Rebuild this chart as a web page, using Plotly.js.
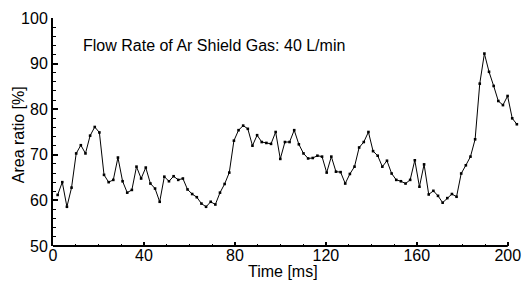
<!DOCTYPE html>
<html>
<head>
<meta charset="utf-8">
<script src="https://cdn.plot.ly/plotly-3.0.1.min.js"></script>
<style>html,body{margin:0;padding:0;background:#fff;}#chart{width:531px;height:291px;}</style>
</head>
<body>
<div id="chart"></div>
<script>
const timeMs = [2.04, 4.08, 6.12, 8.16, 10.2, 12.24, 14.28, 16.32, 18.36, 20.4,
  22.44, 24.48, 26.52, 28.56, 30.6, 32.64, 34.68, 36.72, 38.76, 40.8,
  42.84, 44.88, 46.92, 48.96, 51, 53.04, 55.08, 57.12, 59.16, 61.2,
  63.24, 65.28, 67.32, 69.36, 71.4, 73.44, 75.48, 77.52, 79.56, 81.6,
  83.64, 85.68, 87.72, 89.76, 91.8, 93.84, 95.88, 97.92, 99.96, 102,
  104.04, 106.08, 108.12, 110.16, 112.2, 114.24, 116.28, 118.32, 120.36, 122.4,
  124.44, 126.48, 128.52, 130.56, 132.6, 134.64, 136.68, 138.72, 140.76, 142.8,
  144.84, 146.88, 148.92, 150.96, 153, 155.04, 157.08, 159.12, 161.16, 163.2,
  165.24, 167.28, 169.32, 171.36, 173.4, 175.44, 177.48, 179.52, 181.56, 183.6,
  185.64, 187.68, 189.72, 191.76, 193.8, 195.84, 197.88, 199.92, 201.96, 204];

const areaRatio = [61.2, 64.0, 58.6, 62.8, 70.3, 72.1, 70.3, 74.2, 76.1, 74.9,
  65.6, 64.0, 64.5, 69.4, 64.2, 61.7, 62.3, 67.4, 64.8, 67.2,
  63.7, 62.6, 59.7, 65.2, 64.2, 65.3, 64.5, 64.8, 62.4, 61.4,
  60.7, 59.3, 58.6, 59.7, 59.1, 61.7, 63.6, 66.1, 73.1, 75.4,
  76.4, 75.7, 72.0, 74.3, 72.8, 72.6, 72.4, 75.0, 69.1, 72.8,
  72.8, 75.4, 72.3, 70.3, 69.2, 69.3, 69.8, 69.6, 66.1, 69.6,
  66.3, 66.2, 63.7, 65.8, 67.4, 71.6, 72.8, 75.0, 70.8, 69.8,
  67.4, 68.7, 65.9, 64.5, 64.2, 63.7, 64.5, 68.8, 63.0, 67.9,
  61.3, 62.1, 61.0, 59.5, 60.5, 61.4, 60.8, 65.9, 67.7, 69.6,
  73.4, 85.6, 92.2, 88.2, 85.1, 81.8, 80.9, 82.9, 78.0, 76.7];

const xTickVals = [0, 40, 80, 120, 160, 200];
const xMinorTickVals = [10, 20, 30, 50, 60, 70, 90, 100, 110, 130, 140, 150, 170, 180, 190];
const yTickVals = [50, 60, 70, 80, 90, 100];
const chartTitle = 'Flow Rate of Ar Shield Gas: 40 L/min';
const xTitle = 'Time [ms]';
const yTitle = 'Area ratio [%]';

const FONT = 'Liberation Sans, Arial, sans-serif';

const trace = {
  x: timeMs,
  y: areaRatio,
  type: 'scatter',
  mode: 'lines+markers',
  line: {color: '#000', width: 1},
  marker: {color: '#000', size: 2.6, symbol: 'square'},
  cliponaxis: false,
  hoverinfo: 'skip'
};

const layout = {
  width: 531,
  height: 291,
  margin: {l: 53, r: 13, t: 18, b: 45, pad: 0},
  paper_bgcolor: '#fff',
  plot_bgcolor: '#fff',
  showlegend: false,
  font: {family: FONT, size: 16, color: '#000'},
  xaxis: {
    range: [0, 204.5],
    tickvals: xTickVals,
    ticktext: xTickVals.map(String),
    ticks: 'inside',
    ticklen: 4,
    tickwidth: 2,
    tickcolor: '#000',
    minor: {tickvals: xMinorTickVals, ticks: 'inside', ticklen: 2, tickwidth: 1, tickcolor: '#000'},
    showline: false,
    showgrid: false,
    zeroline: false,
    tickfont: {family: FONT, size: 16, color: '#000'},
    ticklabelstandoff: -2
  },
  yaxis: {
    range: [50, 100],
    tickvals: yTickVals,
    ticktext: yTickVals.map(String),
    ticks: 'inside',
    ticklen: 5,
    tickwidth: 2,
    tickcolor: '#000',
    minor: {dtick: 2, tick0: 50, ticks: 'inside', ticklen: 3, tickwidth: 1, tickcolor: '#000'},
    showline: true,
    linewidth: 2,
    linecolor: '#000',
    showgrid: false,
    zeroline: false,
    tickfont: {family: FONT, size: 16, color: '#000'},
    ticklabelstandoff: 0
  },
  shapes: [{
    type: 'line', xref: 'x', yref: 'paper',
    x0: 0, x1: 200, y0: 0, y1: 0,
    line: {color: '#000', width: 2}
  }],
  annotations: [{
    text: chartTitle,
    xref: 'paper', yref: 'paper',
    x: 0.061, y: 0.88,
    xanchor: 'left', yanchor: 'middle',
    showarrow: false,
    font: {family: FONT, size: 16, color: '#000'}
  }, {
    text: xTitle,
    xref: 'x', yref: 'paper',
    x: 101, y: -0.112,
    xanchor: 'center', yanchor: 'middle',
    showarrow: false,
    font: {family: FONT, size: 16, color: '#000'}
  }, {
    text: yTitle,
    xref: 'paper', yref: 'paper',
    x: -0.0753, y: 0.49,
    xanchor: 'center', yanchor: 'middle',
    textangle: -90,
    showarrow: false,
    font: {family: FONT, size: 16, color: '#000'}
  }]
};

Plotly.newPlot('chart', [trace], layout, {displayModeBar: false, staticPlot: true});
</script>
</body>
</html>
